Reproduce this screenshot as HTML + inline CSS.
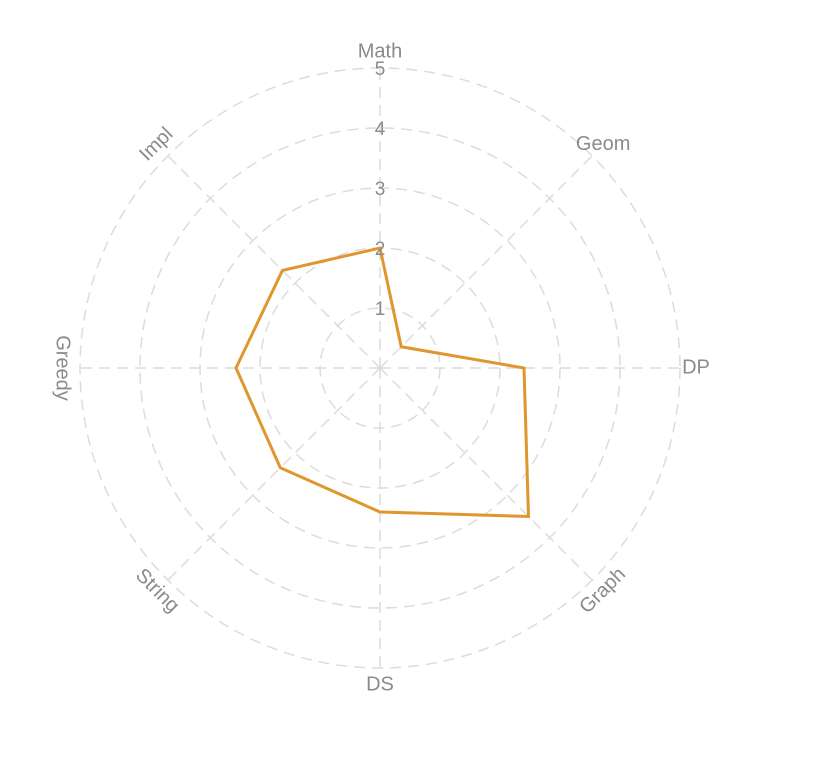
<!DOCTYPE html>
<html><head><meta charset="utf-8"><style>
html,body{margin:0;padding:0;background:#fff;}
svg{display:block;font-family:"Liberation Sans",sans-serif;}
</style></head><body>
<svg id="chart" width="820" height="760" viewBox="0 0 820 760">
<g id="grid"></g>
<g id="series"></g>
<g id="labels"></g>
</svg>
<script>
const categories = ["Math","Geom","DP","Graph","DS","String","Greedy","Impl"];
const values = [2, 0.5, 2.4, 3.5, 2.4, 2.35, 2.4, 2.3];
const tickLabels = ["1","2","3","4","5"];
const maxVal = 5;
const cx = 380, cy = 368, R = 300;
const NS = "http://www.w3.org/2000/svg";
function rScale(v){ return v / maxVal * R; }
function angle(i){ return -Math.PI/2 + i * 2*Math.PI/categories.length; }
function pt(i, v){ const a = angle(i), r = rScale(v); return [cx + r*Math.cos(a), cy + r*Math.sin(a)]; }
function mk(tag, attrs, parent){ const e = document.createElementNS(NS, tag); for (const k in attrs) e.setAttribute(k, attrs[k]); parent.appendChild(e); return e; }
const grid = document.getElementById("grid");
tickLabels.forEach((t, k) => {
  const c = mk("circle", {cx: cx, cy: cy, r: rScale(+t), fill: "none", stroke: "#dcdcdc", "stroke-width": 1.5, "stroke-dasharray": "11 7"}, grid);
  
  
});
categories.forEach((c, i) => {
  const p = pt(i, maxVal);
  const l = mk("line", {x1: cx, y1: cy, x2: p[0], y2: p[1], stroke: "#dcdcdc", "stroke-width": 1.5, "stroke-dasharray": "11 7"}, grid);
  
  
});
const series = document.getElementById("series");
const poly = mk("polygon", {points: values.map((v, i) => pt(i, v).join(",")).join(" "), fill: "none", stroke: "#e0962e", "stroke-width": 3, "stroke-linejoin": "miter"}, series);


const labels = document.getElementById("labels");
tickLabels.forEach(t => {
  const y = cy - rScale(+t) + 2;
  const tx = mk("text", {x: cx, y: y, "text-anchor": "middle", "dominant-baseline": "middle", fill: "#8a8a8f", "font-size": 19}, labels);
  tx.textContent = t;
  
  
});
const rotations = [0, 0, 0, -45, 0, 45, 90, -45];
categories.forEach((c, i) => {
  const p = pt(i, maxVal + 0.26);
  let x = p[0], y = p[1];
  if (i === 0) y = cy - R - 16;
  if (i === 4) y = cy + R + 17;
  if (i === 2) x = cx + R + 16;
  if (i === 6) x = cx - R - 18;
  const tx = mk("text", {x: x, y: y, "text-anchor": "middle", "dominant-baseline": "middle", fill: "#8a8a8f", "font-size": 20, transform: "rotate(" + rotations[i] + " " + x + " " + y + ")"}, labels);
  tx.textContent = c;
  
  
});
</script>
</body></html>
